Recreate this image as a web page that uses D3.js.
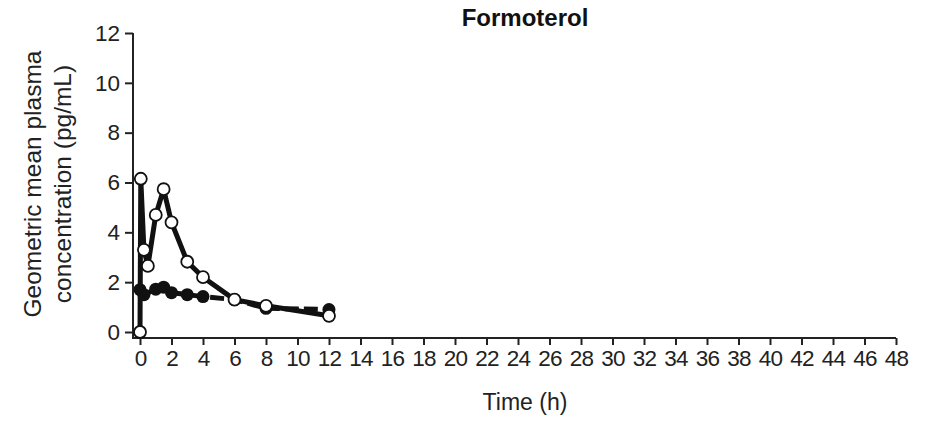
<!DOCTYPE html>
<html>
<head>
<meta charset="UTF-8">
<script src="https://d3js.org/d3.v7.min.js"></script>
<style>
  body { margin: 0; background: #fff; }
  svg { display: block; font-family: "Liberation Sans", Arial, Helvetica, sans-serif; }
  .tick text { font-size: 22.5px; fill: #222; }
</style>
</head>
<body>
<svg width="928" height="423"></svg>
<script>
// Temps de mostreig (h) i concentracions llegides del gràfic
const timesOpen = [0, 0.05, 0.25, 0.5, 1, 1.5, 2, 3, 4, 6, 8, 12];
const concOpen  = [0, 6.15, 3.3, 2.65, 4.7, 5.73, 4.4, 2.82, 2.2, 1.3, 1.05, 0.65];

const timesFilled = [0, 0.25, 1, 1.5, 2, 3, 4, 6, 8, 12];
const concFilled  = [1.7, 1.5, 1.72, 1.8, 1.58, 1.5, 1.42, 1.3, 0.95, 0.9];

const xTicks = d3.range(0, 49, 2);
const yTicks = d3.range(0, 13, 2);

const svg = d3.select("svg");

const x = d3.scaleLinear().domain([0, 48]).range([140, 896]);
const y = d3.scaleLinear().domain([0, 12]).range([332, 33]);

const axisX = 133;   // posició de l'eix Y
const axisY = 338;   // posició de l'eix X

// Eix Y
const gy = svg.append("g")
    .attr("transform", `translate(${axisX},0)`)
    .call(d3.axisLeft(y).tickValues(yTicks).tickSize(8).tickSizeOuter(0).tickPadding(5));
gy.select(".domain").remove();
gy.selectAll(".tick line").attr("stroke", "#222").attr("stroke-width", 2);

// Eix X
const gx = svg.append("g")
    .attr("transform", `translate(0,${axisY})`)
    .call(d3.axisBottom(x).tickValues(xTicks).tickSize(7).tickSizeOuter(0).tickPadding(5));
gx.select(".domain").remove();
gx.selectAll(".tick line").attr("stroke", "#222").attr("stroke-width", 2);
gx.selectAll(".tick text").attr("letter-spacing", "-0.8");

// Línies dels eixos en forma de L
svg.append("path")
    .attr("d", `M${axisX},${y(12)}V${axisY}H${x(48)}`)
    .attr("fill", "none")
    .attr("stroke", "#222")
    .attr("stroke-width", 2);

const line = d3.line().x(d => x(d[0])).y(d => y(d[1]));

const filled = timesFilled.map((t, i) => [t, concFilled[i]]);
const open = timesOpen.map((t, i) => [t, concOpen[i]]);

// Sèrie amb cercles plens (línia discontínua)
svg.append("path")
    .datum(filled)
    .attr("d", line)
    .attr("fill", "none")
    .attr("stroke", "#111")
    .attr("stroke-width", 5)
    .attr("stroke-dasharray", "14,5");

svg.selectAll("circle.filled")
    .data(filled)
    .enter().append("circle")
    .attr("class", "filled")
    .attr("cx", d => x(d[0]))
    .attr("cy", d => y(d[1]))
    .attr("r", 6.5)
    .attr("fill", "#111");

// Sèrie amb cercles buits (línia contínua)
svg.append("path")
    .datum(open)
    .attr("d", line)
    .attr("fill", "none")
    .attr("stroke", "#111")
    .attr("stroke-width", 5)
    .attr("stroke-linejoin", "round");

svg.selectAll("circle.open")
    .data(open)
    .enter().append("circle")
    .attr("class", "open")
    .attr("cx", d => x(d[0]))
    .attr("cy", d => y(d[1]))
    .attr("r", 6)
    .attr("fill", "#fff")
    .attr("stroke", "#111")
    .attr("stroke-width", 1.8);

// Títols
svg.append("text")
    .attr("x", 525)
    .attr("y", 26)
    .attr("text-anchor", "middle")
    .style("font-size", "24px")
    .style("font-weight", "bold")
    .style("fill", "#111")
    .text("Formoterol");

svg.append("text")
    .attr("x", 525)
    .attr("y", 410)
    .attr("text-anchor", "middle")
    .style("font-size", "23px")
    .style("fill", "#222")
    .text("Time (h)");

const yTitle = svg.append("text")
    .attr("transform", "translate(0,184) rotate(-90)")
    .attr("text-anchor", "middle")
    .style("font-size", "24.5px")
    .style("fill", "#222");
yTitle.append("tspan").attr("x", 0).attr("y", 41).text("Geometric mean plasma");
yTitle.append("tspan").attr("x", 0).attr("y", 71).text("concentration (pg/mL)");
</script>
</body>
</html>
